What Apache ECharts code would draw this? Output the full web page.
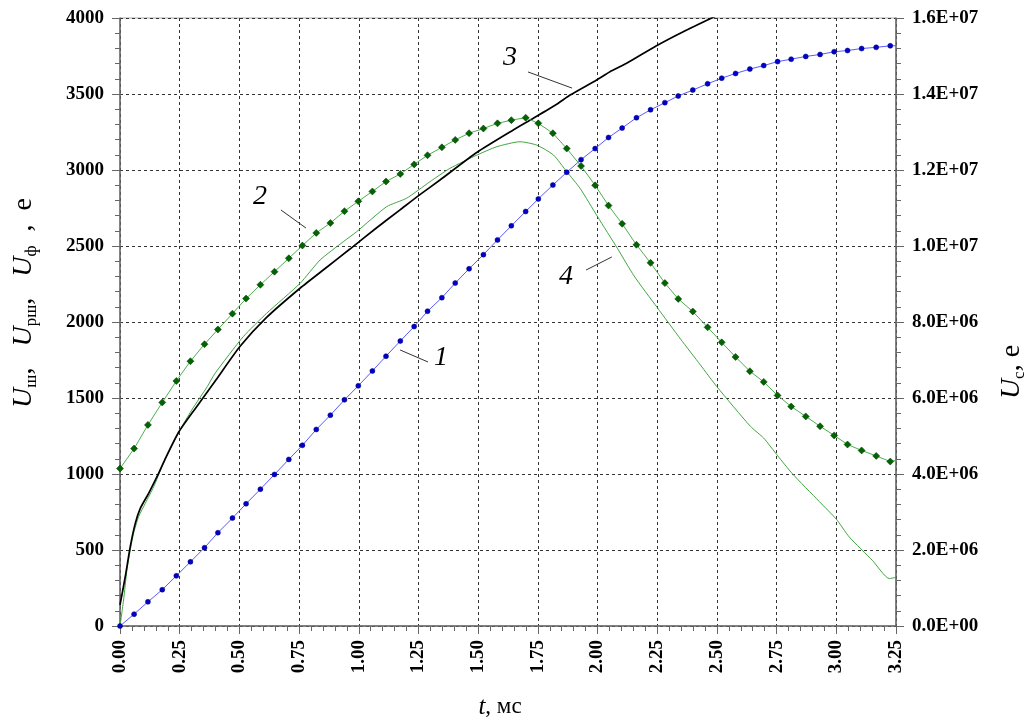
<!DOCTYPE html>
<html>
<head>
<meta charset="utf-8">
<script src="https://cdn.jsdelivr.net/npm/echarts@6/dist/echarts.min.js"></script>
<style>html,body{margin:0;padding:0;background:#fff;}#c{width:1031px;height:725px;}</style>
</head>
<body>
<div id="c"></div>
<script>
// time of marker points, ms
const tMarks = [0,0.059,0.117,0.177,0.236,0.295,0.354,0.41,0.471,0.528,0.588,0.647,0.707,0.764,0.822,0.881,0.94,0.998,1.057,1.114,1.174,1.232,1.288,1.348,1.404,1.462,1.522,1.581,1.639,1.699,1.752,1.813,1.871,1.931,1.99,2.046,2.103,2.163,2.222,2.282,2.338,2.399,2.461,2.52,2.578,2.638,2.696,2.754,2.811,2.872,2.932,2.991,3.047,3.106,3.167,3.226,3.25];
// curve 2 (left axis), e
const curve2 = [1036,1167,1323,1471,1612,1742,1854,1951,2055,2154,2245,2331,2419,2503,2586,2651,2729,2794,2859,2924,2974,3037,3097,3149,3198,3242,3273,3307,3328,3344,3307,3242,3141,3026,2899,2766,2646,2508,2389,2256,2152,2069,1965,1866,1770,1676,1606,1517,1444,1379,1314,1254,1194,1155,1119,1082,1090];
// curve 1 (right axis, U_c), e
const curve1 = [0,312000,636000,956000,1320000,1688000,2060000,2456000,2840000,3216000,3600000,3988000,4384000,4756000,5172000,5548000,5952000,6320000,6712000,7100000,7500000,7880000,8284000,8640000,9024000,9400000,9772000,10160000,10532000,10908000,11240000,11604000,11940000,12272000,12564000,12856000,13104000,13376000,13584000,13772000,13948000,14104000,14268000,14416000,14540000,14656000,14748000,14852000,14916000,14988000,15040000,15112000,15144000,15196000,15228000,15268000,15270000];
// curve 3 (left axis)
const t3 = [0,0.022,0.043,0.064,0.085,0.12,0.155,0.187,0.246,0.315,0.398,0.503,0.614,0.754,0.866,0.963,1.075,1.173,1.256,1.34,1.494,1.647,1.731,1.829,1.885,1.996,2.052,2.122,2.245,2.359,2.505];
const curve3 = [138,324,522,675,774,873,982,1092,1276,1430,1610,1840,2030,2222,2360,2480,2620,2738,2838,2934,3115,3263,3340,3432,3493,3592,3647,3702,3816,3910,4020];
// curve 4 (left axis)
const t4 = [0,0.015,0.029,0.043,0.057,0.078,0.106,0.141,0.176,0.21,0.246,0.3,0.365,0.398,0.516,0.614,0.754,0.838,0.935,0.991,1.117,1.2,1.298,1.382,1.496,1.578,1.675,1.745,1.815,1.871,1.927,2.0,2.083,2.153,2.25,2.348,2.431,2.5,2.64,2.696,2.755,2.816,2.928,3.0,3.054,3.152,3.222,3.25];
const curve4 = [0,171,368,500,610,719,807,916,1048,1165,1276,1420,1574,1662,1903,2057,2254,2408,2528,2594,2759,2814,2923,3011,3099,3153,3186,3164,3099,2989,2879,2693,2485,2303,2095,1887,1717,1574,1314,1236,1119,1002,820,703,586,430,312,320];
// curve number labels: [t, value] of label, leader start, leader end
const curveLabels = ['1','2','3','4'];
const labelPos = [[1.344,1763],[0.586,2822],[1.633,3737],[1.868,2296]];
const leaderFrom = [[1.173,1816],[0.674,2737],[1.709,3645],[1.952,2342]];
const leaderTo = [[1.29,1737],[0.779,2618],[1.893,3539],[2.06,2428]];

const FONT = '"Liberation Serif","Times New Roman",serif';
const chart = echarts.init(document.getElementById('c'), null, {renderer:'canvas'});

function pairs(ts, vs, lastPlain) {
  return ts.map((t, i) => {
    if (lastPlain && i === ts.length - 1) return {value:[t, vs[i]], symbol:'none'};
    return [t, vs[i]];
  });
}
function expFmt(v) {
  if (v === 0) return '0.0E+00';
  const e = Math.floor(Math.log10(v) + 1e-9);
  const m = v / Math.pow(10, e);
  return m.toFixed(1) + 'E+' + (e < 10 ? '0' + e : e);
}

const axisLine = {show:true, lineStyle:{color:'#666', width:1.5}};
const tickStyle = {color:'#666', width:1};
const labelStyle = {fontFamily:FONT, fontWeight:'bold', fontSize:19, color:'#000'};
const titleRich = {
  i:{fontFamily:FONT, fontStyle:'italic', fontSize:28, lineHeight:32, verticalAlign:'middle'},
  n:{fontFamily:FONT, fontSize:28, lineHeight:32, verticalAlign:'middle'},
  s:{fontFamily:FONT, fontSize:17, lineHeight:15, verticalAlign:'bottom'}
};

chart.setOption({
  animation:false,
  backgroundColor:'#fff',
  grid:{left:120, right:135, top:18, bottom:99, show:true, borderColor:'#aaa', borderWidth:1, backgroundColor:'transparent'},
  xAxis:{
    type:'value', min:0, max:3.25, interval:0.25,
    axisLine:axisLine,
    axisTick:{show:true, length:8, lineStyle:tickStyle},
    minorTick:{show:true, splitNumber:5, length:5, lineStyle:tickStyle},
    axisLabel:Object.assign({rotate:90, margin:14, formatter:v => v.toFixed(2)}, labelStyle),
    splitLine:{show:true, lineStyle:{color:'#333', type:[3,3], width:1}}
  },
  yAxis:[{
    type:'value', min:0, max:4000, interval:500, position:'left',
    axisLine:axisLine,
    axisTick:{show:true, length:8, lineStyle:tickStyle},
    minorTick:{show:true, splitNumber:5, length:5, lineStyle:tickStyle},
    axisLabel:Object.assign({margin:16, formatter:v => String(v)}, labelStyle),
    splitLine:{show:true, lineStyle:{color:'#333', type:[3,3], width:1}}
  },{
    type:'value', min:0, max:16000000, interval:2000000, position:'right',
    axisLine:axisLine,
    axisTick:{show:true, length:8, lineStyle:tickStyle},
    minorTick:{show:true, splitNumber:5, length:5, lineStyle:tickStyle},
    axisLabel:Object.assign({margin:16, formatter:expFmt}, labelStyle),
    splitLine:{show:false}
  }],
  series:[
    {
      name:'4', type:'line', yAxisIndex:0, data:pairs(t4, curve4, false), smooth:0.2,
      showSymbol:false, symbol:'none', lineStyle:{color:'#3fa63f', width:1}, clip:true, z:2
    },
    {
      name:'3', type:'line', yAxisIndex:0, data:pairs(t3, curve3, false), smooth:0.2,
      showSymbol:false, symbol:'none', lineStyle:{color:'#000', width:1.7}, clip:true, z:3,
      markLine:{
        silent:true, symbol:['none','none'], animation:false,
        label:{show:false},
        lineStyle:{color:'#333', width:1, type:'solid'},
        data:leaderFrom.map((p, i) => [{coord:p}, {coord:leaderTo[i]}])
      },
      markPoint:{
        silent:true, animation:false, symbol:'circle', symbolSize:1,
        itemStyle:{color:'rgba(0,0,0,0)'},
        label:{show:true, position:'inside', formatter:p => p.name, fontFamily:FONT, fontStyle:'italic', fontSize:28, color:'#000'},
        data:labelPos.map((p, i) => ({name:curveLabels[i], coord:p}))
      }
    },
    {
      name:'2', type:'line', yAxisIndex:0, data:pairs(tMarks, curve2, true),
      symbol:'diamond', symbolSize:7, showAllSymbol:true,
      itemStyle:{color:'#006400', borderColor:'#003000', borderWidth:0.5},
      lineStyle:{color:'#4cb04c', width:1}, clip:true, z:4
    },
    {
      name:'1', type:'line', yAxisIndex:1, data:pairs(tMarks, curve1, true),
      symbol:'circle', symbolSize:5, showAllSymbol:true,
      itemStyle:{color:'#0000c8', borderColor:'#000080', borderWidth:0.5},
      lineStyle:{color:'#5a5aff', width:1}, clip:true, z:4
    }
  ],
  graphic:[
    {
      type:'text', x:24, y:303, rotation:Math.PI/2,
      style:{
        text:'{i|U}{s|ш}{n|,   }{i|U}{s|рш}{n|,   }{i|U}{s|ф}{n|  ,  e}',
        align:'center', verticalAlign:'middle', fill:'#000',
        rich:titleRich
      }
    },
    {
      type:'text', x:1012, y:372, rotation:Math.PI/2,
      style:{
        text:'{i|U}{s|c}{n|, e}',
        align:'center', verticalAlign:'middle', fill:'#000',
        rich:titleRich
      }
    },
    {
      type:'text', x:500, y:707,
      style:{
        text:'{i|t}{n|, мс}',
        align:'center', verticalAlign:'middle', fill:'#000',
        rich:{
          i:{fontFamily:FONT, fontStyle:'italic', fontSize:25},
          n:{fontFamily:FONT, fontSize:23}
        }
      }
    }
  ]
});
</script>
</body>
</html>
